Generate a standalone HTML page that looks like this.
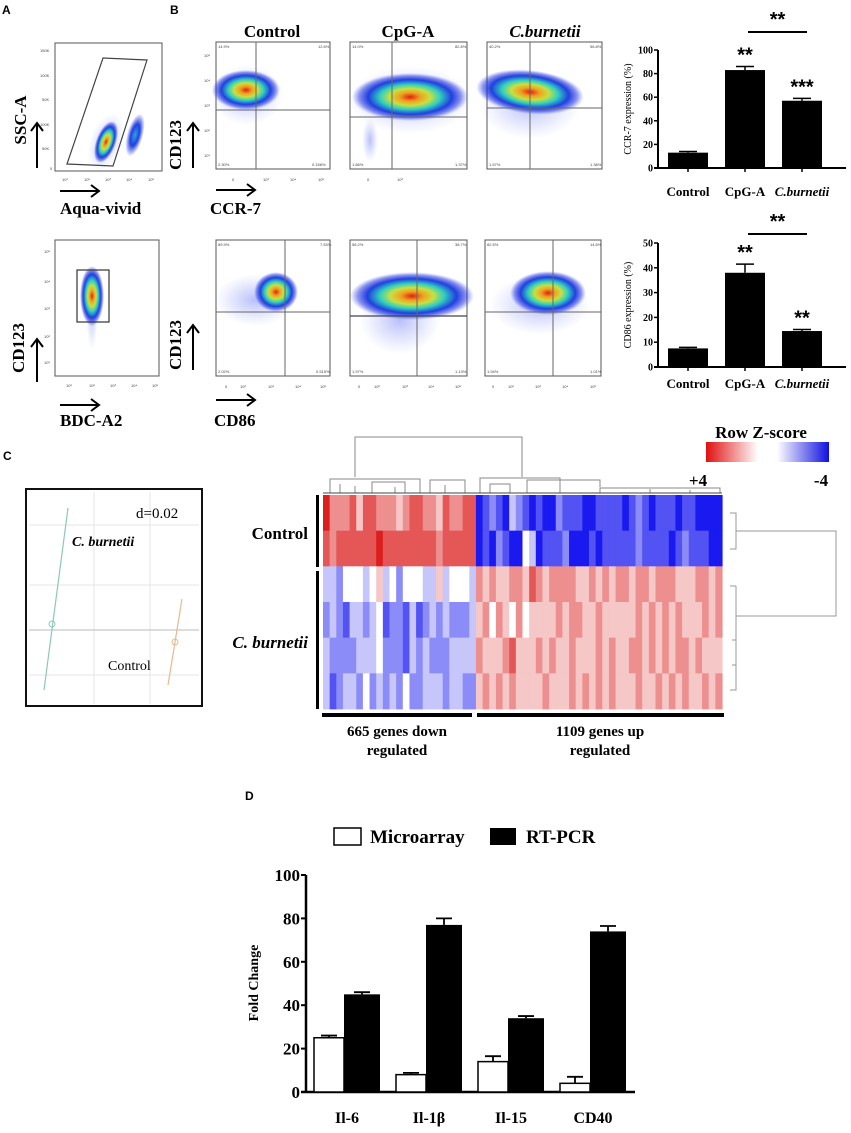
<!DOCTYPE html>
<html><head><meta charset="utf-8">
<style>
html,body{margin:0;padding:0;background:#fff;}
svg{display:block;font-family:"Liberation Serif",serif;}
.pl{font-family:"Liberation Sans",sans-serif;font-weight:bold;font-size:12px;}
.t{font-weight:bold;}
</style></head>
<body>
<svg id="fig" width="851" height="1133" viewBox="0 0 851 1133" xmlns="http://www.w3.org/2000/svg">
<defs>
<radialGradient id="dens" cx="50%" cy="50%" r="50%">
<stop offset="0" stop-color="#e02010"/>
<stop offset="0.18" stop-color="#f0a020"/>
<stop offset="0.35" stop-color="#c8e040"/>
<stop offset="0.52" stop-color="#30d0c0"/>
<stop offset="0.72" stop-color="#2040e0"/>
<stop offset="0.88" stop-color="#2030e0" stop-opacity="0.5"/>
<stop offset="1" stop-color="#4050f0" stop-opacity="0"/>
</radialGradient>
<radialGradient id="halo" cx="50%" cy="50%" r="50%">
<stop offset="0" stop-color="#6070f0" stop-opacity="0.45"/>
<stop offset="1" stop-color="#8090f0" stop-opacity="0"/>
</radialGradient>
<radialGradient id="blue" cx="50%" cy="50%" r="50%">
<stop offset="0" stop-color="#30a0e0"/>
<stop offset="0.5" stop-color="#2040e0"/>
<stop offset="1" stop-color="#3040e0" stop-opacity="0"/>
</radialGradient>
<linearGradient id="zred" x1="0" x2="1"><stop offset="0" stop-color="#e01010"/><stop offset="1" stop-color="#ffffff"/></linearGradient>
<linearGradient id="zblue" x1="0" x2="1"><stop offset="0" stop-color="#ffffff"/><stop offset="1" stop-color="#1010e0"/></linearGradient>
</defs>

<!-- Panel letters -->
<text class="pl" x="2" y="14">A</text>
<text class="pl" x="170" y="14">B</text>
<text class="pl" x="3" y="460">C</text>
<text class="pl" x="245" y="800">D</text>

<!-- Column titles -->
<text class="t" x="272" y="37" font-size="17" text-anchor="middle">Control</text>
<text class="t" x="408" y="37" font-size="17" text-anchor="middle">CpG-A</text>
<text class="t" x="545" y="37" font-size="17" text-anchor="middle" font-style="italic">C.burnetii</text>

<!-- Panel A top -->
<g>
<rect x="55" y="43" width="107" height="128" fill="#fff" stroke="#555" stroke-width="1"/>
<ellipse cx="106" cy="142" rx="16" ry="30" fill="url(#halo)" transform="rotate(20 106 142)"/>
<ellipse cx="106" cy="142" rx="10" ry="22" fill="url(#dens)" transform="rotate(20 106 142)"/>
<ellipse cx="135" cy="135" rx="8" ry="22" fill="url(#blue)" transform="rotate(15 135 135)"/>
<polygon points="67,164 103,58 147,60 113,166" fill="none" stroke="#444" stroke-width="1.2"/>
<g font-size="4" fill="#444" font-family="Liberation Sans,sans-serif"><text x="40" y="52">150K</text><text x="40" y="77">100K</text><text x="42" y="101">50K</text><text x="40" y="126">100K</text><text x="42" y="150">50K</text><text x="50" y="170">0</text>
<text x="62" y="181">10¹</text><text x="84" y="181">10²</text><text x="105" y="181">10³</text><text x="126" y="181">10⁴</text><text x="148" y="181">10⁵</text></g>
</g>
<text class="t" x="26" y="120" font-size="17" text-anchor="middle" transform="rotate(-90 26 120)">SSC-A</text>
<path d="M37 168 V124 M31 131 L37 123 L43 131" fill="none" stroke="#000" stroke-width="2"/>
<path d="M60 191 H98 M91 185 L99 191 L91 197" fill="none" stroke="#000" stroke-width="2"/>
<text class="t" x="60" y="214" font-size="17">Aqua-vivid</text>

<!-- Panel A bottom -->
<g>
<rect x="55" y="240" width="104" height="136" fill="#fff" stroke="#555"/>
<ellipse cx="92" cy="310" rx="6" ry="40" fill="url(#halo)"/>
<ellipse cx="92" cy="296" rx="12" ry="30" fill="url(#dens)"/>
<rect x="77" y="270" width="32" height="52" fill="none" stroke="#333" stroke-width="1.2"/>
<g font-size="4" fill="#444" font-family="Liberation Sans,sans-serif"><text x="44" y="253">10⁵</text><text x="44" y="283">10⁴</text><text x="44" y="310">10³</text><text x="44" y="338">10²</text><text x="44" y="364">10¹</text>
<text x="66" y="387">10¹</text><text x="89" y="387">10²</text><text x="110" y="387">10³</text><text x="131" y="387">10⁴</text><text x="152" y="387">10⁵</text></g>
</g>
<text class="t" x="24" y="348" font-size="17" text-anchor="middle" transform="rotate(-90 24 348)">CD123</text>
<path d="M37 382 V340 M31 347 L37 339 L43 347" fill="none" stroke="#000" stroke-width="2"/>
<path d="M60 405 H98 M91 399 L99 405 L91 411" fill="none" stroke="#000" stroke-width="2"/>
<text class="t" x="60" y="426" font-size="17">BDC-A2</text>

<!-- Panel B flow plots top row -->
<g>
<rect x="216" y="42" width="114" height="127" fill="#fff" stroke="#555"/>
<ellipse cx="247" cy="95" rx="36" ry="30" fill="url(#halo)"/>
<ellipse cx="246" cy="90" rx="34" ry="20" fill="url(#dens)"/>
<line x1="256" y1="42" x2="256" y2="169" stroke="#666"/><line x1="216" y1="110" x2="330" y2="110" stroke="#666"/>
</g>
<g>
<rect x="350" y="42" width="117" height="127" fill="#fff" stroke="#555"/>
<ellipse cx="370" cy="140" rx="8" ry="22" fill="url(#halo)"/>
<ellipse cx="410" cy="100" rx="62" ry="34" fill="url(#halo)"/>
<ellipse cx="410" cy="97" rx="58" ry="24" fill="url(#dens)"/>
<line x1="392" y1="42" x2="392" y2="169" stroke="#666"/><line x1="350" y1="117" x2="467" y2="117" stroke="#666"/>
</g>
<g>
<rect x="487" y="42" width="115" height="127" fill="#fff" stroke="#555"/>
<ellipse cx="530" cy="105" rx="50" ry="34" fill="url(#halo)"/>
<ellipse cx="530" cy="92" rx="54" ry="22" fill="url(#dens)" transform="rotate(6 530 92)"/>
<line x1="530" y1="42" x2="530" y2="169" stroke="#666"/><line x1="487" y1="108" x2="602" y2="108" stroke="#666"/>
</g>
<g font-size="4" fill="#444" font-family="Liberation Sans,sans-serif">
<text x="218" y="48">14.9%</text><text x="318" y="48">12.6%</text><text x="218" y="166">2.30%</text><text x="312" y="166">0.158%</text>
<text x="352" y="48">14.0%</text><text x="455" y="48">82.8%</text><text x="352" y="166">1.86%</text><text x="455" y="166">1.37%</text>
<text x="489" y="48">40.2%</text><text x="590" y="48">56.8%</text><text x="489" y="166">1.57%</text><text x="590" y="166">1.38%</text>
<text x="232" y="181">0</text><text x="263" y="181">10³</text><text x="290" y="181">10⁴</text><text x="318" y="181">10⁵</text>
<text x="367" y="181">0</text><text x="397" y="181">10³</text>
<text x="204" y="57">10⁵</text><text x="204" y="82">10⁴</text><text x="204" y="107">10³</text><text x="204" y="132">10²</text><text x="204" y="157">10¹</text>
</g>
<text class="t" x="181" y="145" font-size="17" text-anchor="middle" transform="rotate(-90 181 145)">CD123</text>
<path d="M193 168 V124 M187 131 L193 123 L199 131" fill="none" stroke="#000" stroke-width="2"/>
<path d="M216 190 H254 M247 184 L255 190 L247 196" fill="none" stroke="#000" stroke-width="2"/>
<text class="t" x="210" y="214" font-size="17">CCR-7</text>

<!-- Panel B flow plots bottom row -->
<g>
<rect x="216" y="240" width="114" height="136" fill="#fff" stroke="#555"/>
<ellipse cx="255" cy="300" rx="40" ry="26" fill="url(#halo)"/>
<ellipse cx="276" cy="292" rx="22" ry="20" fill="url(#dens)"/>
<line x1="285" y1="240" x2="285" y2="376" stroke="#666"/><line x1="216" y1="312" x2="330" y2="312" stroke="#666"/>
</g>
<g>
<rect x="350" y="240" width="117" height="136" fill="#fff" stroke="#555"/>
<ellipse cx="400" cy="320" rx="40" ry="34" fill="url(#halo)"/>
<ellipse cx="412" cy="296" rx="62" ry="24" fill="url(#dens)"/>
<line x1="417" y1="240" x2="417" y2="376" stroke="#666"/><line x1="350" y1="316" x2="467" y2="316" stroke="#444" stroke-width="1.3"/>
</g>
<g>
<rect x="485" y="240" width="116" height="136" fill="#fff" stroke="#555"/>
<ellipse cx="540" cy="305" rx="50" ry="30" fill="url(#halo)"/>
<ellipse cx="548" cy="293" rx="38" ry="22" fill="url(#dens)"/>
<line x1="553" y1="240" x2="553" y2="376" stroke="#666"/><line x1="485" y1="312" x2="601" y2="312" stroke="#666"/>
</g>
<g font-size="4" fill="#444" font-family="Liberation Sans,sans-serif">
<text x="218" y="246">89.9%</text><text x="320" y="246">7.53%</text><text x="218" y="373">2.02%</text><text x="316" y="373">0.515%</text>
<text x="352" y="246">58.2%</text><text x="455" y="246">38.7%</text><text x="352" y="373">1.97%</text><text x="455" y="373">1.13%</text>
<text x="487" y="246">82.5%</text><text x="590" y="246">14.6%</text><text x="487" y="373">1.94%</text><text x="590" y="373">1.01%</text>
<text x="225" y="388">0</text><text x="240" y="388">10²</text><text x="268" y="388">10³</text><text x="295" y="388">10⁴</text><text x="320" y="388">10⁵</text>
<text x="358" y="388">0</text><text x="374" y="388">10²</text><text x="402" y="388">10³</text><text x="428" y="388">10⁴</text><text x="455" y="388">10⁵</text>
<text x="492" y="388">0</text><text x="508" y="388">10²</text><text x="535" y="388">10³</text><text x="562" y="388">10⁴</text><text x="590" y="388">10⁵</text>
</g>
<text class="t" x="181" y="345" font-size="17" text-anchor="middle" transform="rotate(-90 181 345)">CD123</text>
<path d="M193 370 V326 M187 333 L193 325 L199 333" fill="none" stroke="#000" stroke-width="2"/>
<path d="M216 400 H254 M247 394 L255 400 L247 406" fill="none" stroke="#000" stroke-width="2"/>
<text class="t" x="214" y="426" font-size="17">CD86</text>

<!-- Panel C PCA -->
<g>
<rect x="26" y="489" width="176" height="217" fill="#fff" stroke="#111" stroke-width="2"/>
<g stroke="#e4e4e4" stroke-width="1"><line x1="94" y1="492" x2="94" y2="704"/><line x1="150" y1="492" x2="150" y2="704"/><line x1="29" y1="585" x2="199" y2="585"/><line x1="29" y1="675" x2="199" y2="675"/><line x1="29" y1="525" x2="199" y2="525"/></g>
<line x1="29" y1="630" x2="199" y2="630" stroke="#bbb"/>
<line x1="68" y1="508" x2="44" y2="690" stroke="#8cc8b8" stroke-width="1.2"/>
<circle cx="52" cy="624" r="3" fill="none" stroke="#8cc8b8"/>
<line x1="182" y1="599" x2="168" y2="685" stroke="#e8b890" stroke-width="1.2"/>
<circle cx="175" cy="642" r="3" fill="none" stroke="#e8b890"/>
<text x="136" y="518" font-size="15">d=0.02</text>
<text x="72" y="546" font-size="14" font-style="italic" font-weight="bold">C. burnetii</text>
<text x="108" y="670" font-size="14">Control</text>
</g>

<!-- Heatmap static parts -->
<text class="t" x="761" y="438" font-size="17" text-anchor="middle">Row Z-score</text>
<rect x="706" y="442" width="52" height="20" fill="url(#zred)"/>
<rect x="777" y="442" width="52" height="20" fill="url(#zblue)"/>
<text class="t" x="698" y="486" font-size="17" text-anchor="middle">+4</text>
<text class="t" x="821" y="486" font-size="17" text-anchor="middle">-4</text>
<text class="t" x="308" y="539" font-size="17" text-anchor="end">Control</text>
<text class="t" x="308" y="648" font-size="17" text-anchor="end" font-style="italic">C. burnetii</text>
<rect x="316" y="495" width="3" height="72" fill="#000"/>
<rect x="316" y="571" width="3" height="138" fill="#000"/>
<rect x="322" y="713" width="150" height="4" fill="#000"/>
<rect x="477" y="713" width="247" height="4" fill="#000"/>
<text class="t" x="397" y="736" font-size="15" text-anchor="middle">665 genes down</text>
<text class="t" x="397" y="755" font-size="15" text-anchor="middle">regulated</text>
<text class="t" x="600" y="736" font-size="15" text-anchor="middle">1109 genes up</text>
<text class="t" x="600" y="755" font-size="15" text-anchor="middle">regulated</text>
<g fill="none" stroke="#888" stroke-width="1">
<path d="M355 477 V437 H522 V477"/>
<path d="M330 493 V479 H420 V493 M340 493 V484 M355 493 V486 M372 493 V482 H405 V493 M430 493 V480 H465 V493 M395 493 V487 M445 493 V485"/>
<path d="M480 493 V478 H560 V493 M490 493 V484 H510 V493 M527 493 V480 H600 V487 M600 493 V488 H720 V493 M560 493 V486 M650 493 V489 M690 493 V490"/>
<line x1="323" y1="493" x2="722" y2="493" stroke="#444"/>
</g>
<g fill="none" stroke="#999" stroke-width="1">
<path d="M730 513 H736 V549 H730 M736 531 H836 V616 H736 M736 586 V690 H730 M730 586 H736 M732 640 H736 M732 665 H736"/>
</g>
<g id="heatmap"></g>

<!-- Panel D legend -->
<rect x="334" y="828" width="27" height="17" fill="#fff" stroke="#000" stroke-width="1.5"/>
<text class="t" x="370" y="843" font-size="19">Microarray</text>
<rect x="490" y="828" width="26" height="17" fill="#000"/>
<text class="t" x="526" y="843" font-size="19">RT-PCR</text>
<text class="t" x="258" y="983" font-size="14" text-anchor="middle" transform="rotate(-90 258 983)">Fold Change</text>

<g id="ccr7chart"></g>
<g id="cd86chart"></g>
<g id="dchart"></g>
</svg>
<script>
// ---- Panel B bar charts data ----
const bCategories = ["Control", "CpG-A", "C.burnetii"];
const ccr7Values = [13, 83, 57];
const ccr7Errors = [1, 3, 2];
const ccr7Stars = ["", "**", "***"];
const ccr7Ticks = [0, 20, 40, 60, 80, 100];
const cd86Values = [7.5, 38, 14.5];
const cd86Errors = [0.4, 3.5, 0.6];
const cd86Stars = ["", "**", "**"];
const cd86Ticks = [0, 10, 20, 30, 40, 50];
// ---- Panel D data ----
const dCategories = ["Il-6", "Il-1β", "Il-15", "CD40"];
const microarrayValues = [25, 8, 14, 4];
const microarrayErrors = [1, 0.8, 2.5, 3];
const rtpcrValues = [45, 77, 34, 74];
const rtpcrErrors = [1, 3, 1, 2.5];
const dTicks = [0, 20, 40, 60, 80, 100];
// ---- Heatmap data (row z-scores, digit d -> z = d-4; positive = red) ----
const heatRows = [
  "86667577666567766576677" + "0121032101002111001111012101110110000",
  "76777777877777777677777" + "0102100430111200010111112111101211100",
  "33244434534244433534443" + "6565566576566665565656656656665556656",
  "23213323412213123232223" + "5646546455556566556555556565656555656",
  "32222333422213232223333" + "6555675556565565556565566565656656555",
  "31233242323242233323322" + "5656565555655565656565556556565655656"
];

const NS = "http://www.w3.org/2000/svg";
function mk(tag, attrs, parent) {
  const e = document.createElementNS(NS, tag);
  for (const k in attrs) e.setAttribute(k, attrs[k]);
  parent.appendChild(e);
  return e;
}

function barChart(gid, vals, errs, stars, ticks, x0, x1, y0, y1, maxV, label, labelY, centers, sigY, sigText) {
  const g = document.getElementById(gid);
  const ys = v => y0 - (v / maxV) * (y0 - y1);
  mk("line", {x1: x0, y1: y0, x2: x0, y2: y1, stroke: "#000", "stroke-width": 2}, g);
  mk("line", {x1: x0 - 4, y1: y0, x2: x1, y2: y0, stroke: "#000", "stroke-width": 2}, g);
  ticks.forEach(t => {
    mk("line", {x1: x0 - 4, y1: ys(t), x2: x0, y2: ys(t), stroke: "#000", "stroke-width": 1.5}, g);
    const tx = mk("text", {x: x0 - 5, y: ys(t) + 3.5, "font-size": 10, "font-weight": "bold", "text-anchor": "end"}, g);
    tx.textContent = t;
    
    
  });
  vals.forEach((v, i) => {
    const cx = centers[i];
    const b = mk("rect", {x: cx - 20, y: ys(v), width: 40, height: y0 - ys(v), fill: "#000"}, g);
    
    
    mk("path", {d: `M${cx} ${ys(v)} V${ys(v + errs[i])} M${cx - 9} ${ys(v + errs[i])} H${cx + 9}`, stroke: "#000", "stroke-width": 1.5, fill: "none"}, g);
    mk("line", {x1: cx, y1: y0, x2: cx, y2: y0 + 4, stroke: "#000", "stroke-width": 1.5}, g);
    if (stars[i]) {
      const s = mk("text", {x: cx, y: ys(v + errs[i]) - 5, "font-size": 20, "font-weight": "bold", "text-anchor": "middle", "font-family": "Liberation Sans,sans-serif"}, g);
      s.textContent = stars[i];
      
      
    }
    const cl = mk("text", {x: cx, y: labelY, "font-size": 13, "font-weight": "bold", "text-anchor": "middle"}, g);
    cl.textContent = bCategories[i];
    if (i === 2) cl.setAttribute("font-style", "italic");
    
    
  });
  const yl = mk("text", {x: x0 - 27, y: (y0 + y1) / 2, "font-size": 10, "text-anchor": "middle", transform: `rotate(-90 ${x0 - 27} ${(y0 + y1) / 2})`}, g);
  yl.textContent = label;
  
  
  mk("line", {x1: centers[1] + 3, y1: sigY, x2: centers[2] + 5, y2: sigY, stroke: "#000", "stroke-width": 2}, g);
  const st = mk("text", {x: (centers[1] + centers[2]) / 2 + 4, y: sigY - 6, "font-size": 20, "font-weight": "bold", "text-anchor": "middle", "font-family": "Liberation Sans,sans-serif"}, g);
  st.textContent = sigText;
  
  
}
barChart("ccr7chart", ccr7Values, ccr7Errors, ccr7Stars, ccr7Ticks, 658, 846, 168, 50, 100, "CCR-7 expression (%)", 196, [688, 745, 802], 32, "**");
barChart("cd86chart", cd86Values, cd86Errors, cd86Stars, cd86Ticks, 658, 846, 367, 243, 50, "CD86 expression (%)", 388, [688, 745, 802], 234, "**");

// ---- Heatmap ----
(function () {
  const g = document.getElementById("heatmap");
  const left = 323, right = 722, top = 495, bottom = 709;
  const nCols = heatRows[0].length, nRows = heatRows.length;
  const cw = (right - left) / nCols, rh = (bottom - top) / nRows;
  function col(z) {
    const f = Math.min(Math.abs(z) / 4, 1);
    if (z >= 0) return `rgb(${Math.round(255 - 35 * f)},${Math.round(255 - 225 * f)},${Math.round(255 - 225 * f)})`;
    return `rgb(${Math.round(255 - 230 * f)},${Math.round(255 - 230 * f)},${Math.round(255 - 15 * f)})`;
  }
  heatRows.forEach((row, r) => {
    for (let c = 0; c < nCols; c++) {
      const z = parseInt(row[c], 10) - 4;
      const cell = mk("rect", {x: left + c * cw, y: top + r * rh, width: cw + 0.6, height: rh + 0.4, fill: col(z)}, g);
      
      
    }
  });
})();

// ---- Panel D grouped bars ----
(function () {
  const g = document.getElementById("dchart");
  const x0 = 306, x1 = 635, y0 = 1092, y1 = 875, maxV = 100;
  const ys = v => y0 - (v / maxV) * (y0 - y1);
  const groupStart = 314, groupStep = 82, bw = 30, bw2 = 36;
  mk("line", {x1: x0, y1: y0, x2: x0, y2: y1, stroke: "#000", "stroke-width": 2.5}, g);
  mk("line", {x1: x0 - 5, y1: y0, x2: x1, y2: y0, stroke: "#000", "stroke-width": 2.5}, g);
  dTicks.forEach(t => {
    mk("line", {x1: x0 - 5, y1: ys(t), x2: x0, y2: ys(t), stroke: "#000", "stroke-width": 2}, g);
    const tx = mk("text", {x: x0 - 6, y: ys(t) + 6, "font-size": 17, "font-weight": "bold", "text-anchor": "end"}, g);
    tx.textContent = t;
    
    
  });
  dCategories.forEach((cat, i) => {
    const gx = groupStart + i * groupStep;
    const mv = microarrayValues[i], rv = rtpcrValues[i];
    const w = mk("rect", {x: gx, y: ys(mv), width: bw, height: y0 - ys(mv), fill: "#fff", stroke: "#000", "stroke-width": 1.5}, g);
    
    
    mk("path", {d: `M${gx + bw / 2} ${ys(mv)} V${ys(mv + microarrayErrors[i])} M${gx + bw / 2 - 8} ${ys(mv + microarrayErrors[i])} H${gx + bw / 2 + 8}`, stroke: "#000", "stroke-width": 1.8, fill: "none"}, g);
    const b = mk("rect", {x: gx + bw, y: ys(rv), width: bw2, height: y0 - ys(rv), fill: "#000"}, g);
    
    
    mk("path", {d: `M${gx + bw + bw2 / 2} ${ys(rv)} V${ys(rv + rtpcrErrors[i])} M${gx + bw + bw2 / 2 - 8} ${ys(rv + rtpcrErrors[i])} H${gx + bw + bw2 / 2 + 8}`, stroke: "#000", "stroke-width": 1.8, fill: "none"}, g);
    const tl = mk("text", {x: gx + bw + 3, y: 1123, "font-size": 16, "font-weight": "bold", "text-anchor": "middle"}, g);
    tl.textContent = cat;
    
    
  });
})();
</script>
</body></html>
